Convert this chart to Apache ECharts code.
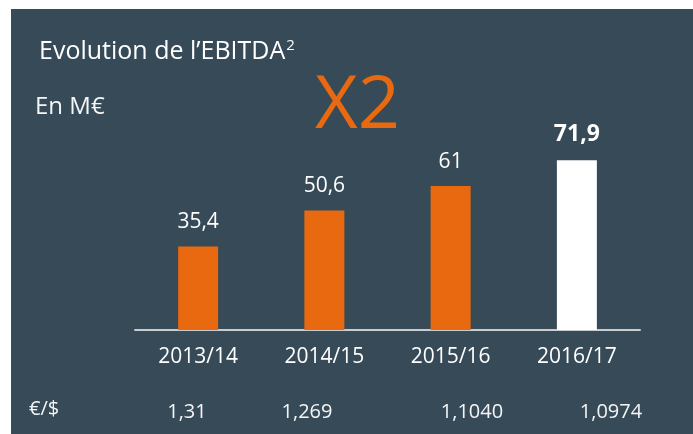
<!DOCTYPE html>
<html lang="fr">
<head>
    <meta charset="UTF-8">
    <title>EBITDA</title>
    <script src="https://cdn.jsdelivr.net/npm/echarts@6/dist/echarts.min.js"></script>
    <style>
        html,body{margin:0;padding:0;background:#fff;}
        #chart{width:693px;height:434px;}
    </style>
</head>
<body>
<div id="chart"></div>
<script>
    // donnees
    var periodes=['2013/14','2014/15','2015/16','2016/17'];
    var ebitda=[35.4,50.6,61,71.9];
    var tauxChange=['1,31','1,269','1,1040','1,0974'];
    var tauxX=[187,307,472,611];   // position du texte de chaque taux

    var fond='#364a57';
    var orange='#e8690f';
    var police='"Open Sans", sans-serif';

    function virgule(v){
        return String(v).replace('.',',');
    }

    var barres=[];
    for(var i=0;i<ebitda.length;i++){
        var dernier=(i===ebitda.length-1);
        barres.push({
            value:ebitda[i],
            itemStyle:{color:dernier?'#ffffff':orange},
            label:dernier?{fontWeight:'bold',fontSize:23,distance:14}:{}
        });
    }

    var textes=[
        {type:'rect',z:-10,shape:{x:11,y:9,width:682,height:425},style:{fill:fond}},
        {type:'text',left:35,top:95,style:{text:'En M€',fill:'#f4f5f6',fontSize:24,fontFamily:police}},
        {type:'text',left:315,top:70,style:{text:'X2',fill:orange,fontSize:74,fontFamily:police}},
        {type:'text',left:29,top:399,style:{text:'€/$',fill:'#f4f5f6',fontSize:20,fontFamily:police}}
    ];
    for(var k=0;k<tauxChange.length;k++){
        textes.push({type:'text',x:tauxX[k],y:412,style:{text:tauxChange[k],fill:'#f4f5f6',fontSize:20,fontFamily:police,align:'center',verticalAlign:'middle'}});
    }

    var option={
        backgroundColor:'#fff',
        animation:false,
        title:{
            left:34,
            top:33,
            text:'{a|Evolution de l’EBITDA}{s|2}',
            textStyle:{
                rich:{
                    a:{fontSize:25,color:'#fff',fontFamily:police,fontWeight:'normal'},
                    s:{fontSize:15,color:'#fff',fontFamily:police,fontWeight:'normal',verticalAlign:'top',padding:[0,0,12,1]}
                }
            }
        },
        grid:{left:135,right:53,top:94,bottom:104},
        xAxis:{
            type:'category',
            data:periodes,
            axisLine:{lineStyle:{color:'#c9cccf',width:2}},
            axisTick:{show:false},
            axisLabel:{color:'#fff',fontSize:21,fontFamily:police,margin:17}
        },
        yAxis:{
            type:'value',
            min:0,
            max:100,
            show:false
        },
        series:[{
            type:'bar',
            barWidth:40,
            data:barres,
            label:{
                show:true,
                position:'top',
                distance:14,
                color:'#fff',
                fontSize:21,
                fontFamily:police,
                formatter:function(p){return virgule(p.value);}
            }
        }],
        graphic:textes
    };
    var chart=echarts.init(document.getElementById('chart'));
    chart.setOption(option);
</script>
</body>
</html>
